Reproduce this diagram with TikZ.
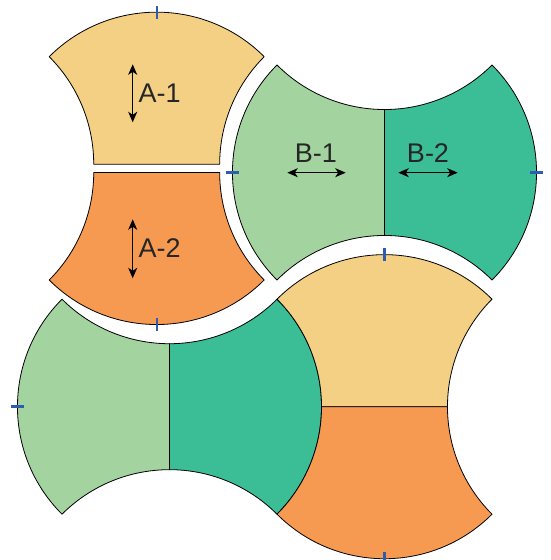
\documentclass[tikz,border=0pt]{standalone}
\usepackage{fontspec}
\setmainfont{Liberation Sans}
\usetikzlibrary{arrows.meta}
\definecolor{cyel}{HTML}{F3D083}
\definecolor{cora}{HTML}{F69A52}
\definecolor{clgr}{HTML}{A3D49F}
\definecolor{cteal}{HTML}{3BBE96}
\definecolor{ctick}{HTML}{2E5CB0}
\definecolor{ctxt}{HTML}{262626}
\def\aa{107.5}
\def\RRn{152.028}
\def\RR{152.028pt}
\newcommand{\vtophalf}[3]{\path[#3] ({#1-\aa},{#2+\aa}) arc[start angle=135,end angle=45,radius=\RR] arc[start angle=135,end angle=180,radius=\RR] -- ({#1-2*\aa+\RRn},{#2}) arc[start angle=0,end angle=45,radius=\RR] -- cycle;}
\newcommand{\vbothalf}[3]{\path[#3] ({#1+2*\aa-\RRn},{#2}) arc[start angle=180,end angle=225,radius=\RR] arc[start angle=-45,end angle=-135,radius=\RR] arc[start angle=-45,end angle=0,radius=\RR] -- cycle;}
\newcommand{\hlefthalf}[3]{\path[#3] ({#1-\aa},{#2+\aa}) arc[start angle=135,end angle=225,radius=\RR] arc[start angle=135,end angle=90,radius=\RR] -- ({#1},{#2+2*\aa-\RRn}) arc[start angle=270,end angle=225,radius=\RR] -- cycle;}
\newcommand{\hrighthalf}[3]{\path[#3] ({#1},{#2-2*\aa+\RRn}) arc[start angle=90,end angle=45,radius=\RR] arc[start angle=-45,end angle=45,radius=\RR] arc[start angle=-45,end angle=-90,radius=\RR] -- cycle;}
\tikzset{
  piece/.style={draw=black,line width=0.8pt,line join=round,fill=#1},
  tickmark/.style={draw=ctick,line width=2.4pt},
  grain/.style={line width=1.3pt,{Stealth[length=10.5pt,width=9pt,inset=3pt]}-{Stealth[length=10.5pt,width=9pt,inset=3pt]}},
  lab/.style={text=ctxt,font=\fontsize{27pt}{30pt}\selectfont,inner sep=0pt}
}
\begin{document}
\begin{tikzpicture}[x=1pt,y=1pt]
\useasboundingbox (0,0) rectangle (550,560);
% A block (exploded)
\vtophalf{156.7}{395.8}{piece=cyel}
\vbothalf{156.7}{387.5}{piece=cora}
% B block
\hlefthalf{384.5}{387.5}{piece=clgr}
\hrighthalf{384.5}{387.5}{piece=cteal}
% bottom-left block
\hlefthalf{169.5}{153.3}{piece=clgr}
\hrighthalf{169.5}{153.3}{piece=cteal}
% bottom-right block
\vtophalf{384.5}{153.3}{piece=cyel}
\vbothalf{384.5}{153.3}{piece=cora}
% tick marks
\coordinate (tA) at (156.7,547.8);
\coordinate (tA2) at (156.7,235.5);
\coordinate (tBl) at (232.5,387.5);
\coordinate (tBr) at (536.5,387.5);
\coordinate (tRt) at (384.5,305.3);
\coordinate (tRb) at (384.5,1.3);
\coordinate (tLl) at (17.5,153.3);
\foreach \p in {tA,tA2,tRt,tRb} \draw[tickmark] ([yshift=-6.5pt]\p) -- ([yshift=6.5pt]\p);
\foreach \p in {tBl,tBr,tLl} \draw[tickmark] ([xshift=-6.5pt]\p) -- ([xshift=6.5pt]\p);
% labels
\node[lab,anchor=west] (la1) at (138.5,466.7) {A-1};
\node[lab,anchor=west] (la2) at (138.5,311.7) {A-2};
\node[lab] (lb1) at (315.8,406.7) {B-1};
\node[lab] (lb2) at (428,406.7) {B-2};
% grain arrows
\coordinate (a1s) at (132.7,495.7); \coordinate (a1e) at (132.7,437.7);
\coordinate (a2s) at (132.7,340.7); \coordinate (a2e) at (132.7,281.7);
\coordinate (b1s) at (287.3,387.3); \coordinate (b1e) at (345.7,387.3);
\coordinate (b2s) at (398.3,387.3); \coordinate (b2e) at (457.7,387.3);
\draw[grain] (a1s) -- (a1e);
\draw[grain] (a2s) -- (a2e);
\draw[grain] (b1s) -- (b1e);
\draw[grain] (b2s) -- (b2e);
\end{tikzpicture}
\end{document}
